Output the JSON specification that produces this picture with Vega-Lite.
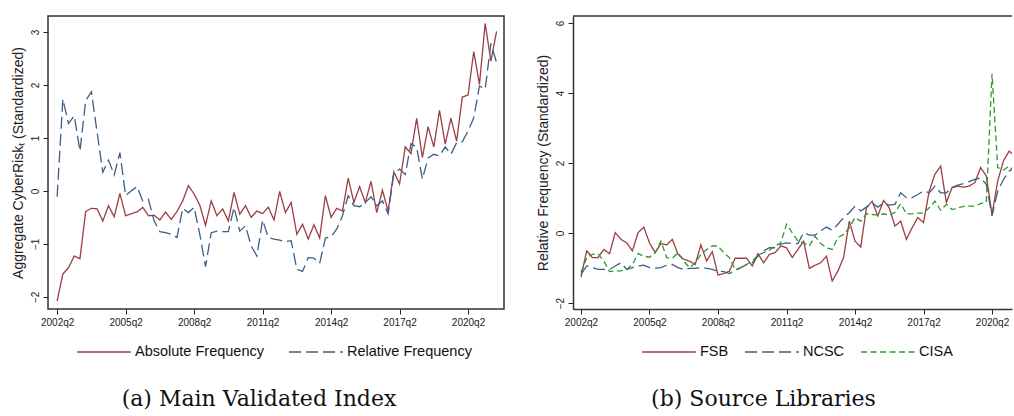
{
  "$schema": "https://vega.github.io/schema/vega-lite/v6.json",
  "background": "white",
  "padding": {"left": 10, "top": 15, "right": 0, "bottom": 0},
  "spacing": 31,
  "resolve": {"scale": {"color": "independent", "strokeDash": "independent"}, "legend": {"color": "independent", "strokeDash": "independent"}},
  "config": {
    "font": "Liberation Sans",
    "axis": {"labelFont": "Liberation Sans", "labelFontSize": 10, "labelColor": "#1a1a1a", "tickColor": "#222", "tickSize": 5, "tickWidth": 1, "titleFont": "Liberation Sans", "titleFontSize": 14, "titleFontWeight": "normal", "titleColor": "#222", "grid": false, "labelPadding": 3},
    "legend": {"orient": "none", "direction": "horizontal", "symbolType": "stroke", "symbolSize": 2900, "symbolStrokeWidth": 1.5, "labelFont": "Liberation Sans", "labelFontSize": 14.5, "labelColor": "#111", "gridAlign": "none", "labelOffset": 3},
    "title": {"font": "DejaVu Serif", "fontSize": 22, "fontWeight": "normal", "color": "#111", "orient": "bottom", "anchor": "middle", "offset": 30}
  },
  "datasets": {
    "main": [
      {"t":0,"Absolute Frequency":-2.08,"Relative Frequency":-0.11},
      {"t":1,"Absolute Frequency":-1.57,"Relative Frequency":1.73},
      {"t":2,"Absolute Frequency":-1.45,"Relative Frequency":1.27},
      {"t":3,"Absolute Frequency":-1.23,"Relative Frequency":1.42},
      {"t":4,"Absolute Frequency":-1.28,"Relative Frequency":0.75},
      {"t":5,"Absolute Frequency":-0.39,"Relative Frequency":1.70},
      {"t":6,"Absolute Frequency":-0.33,"Relative Frequency":1.87},
      {"t":7,"Absolute Frequency":-0.34,"Relative Frequency":1.11},
      {"t":8,"Absolute Frequency":-0.57,"Relative Frequency":0.35},
      {"t":9,"Absolute Frequency":-0.28,"Relative Frequency":0.58},
      {"t":10,"Absolute Frequency":-0.49,"Relative Frequency":0.30},
      {"t":11,"Absolute Frequency":-0.05,"Relative Frequency":0.72},
      {"t":12,"Absolute Frequency":-0.47,"Relative Frequency":-0.09},
      {"t":13,"Absolute Frequency":-0.43,"Relative Frequency":0.00},
      {"t":14,"Absolute Frequency":-0.40,"Relative Frequency":0.08},
      {"t":15,"Absolute Frequency":-0.31,"Relative Frequency":-0.19},
      {"t":16,"Absolute Frequency":-0.47,"Relative Frequency":-0.16},
      {"t":17,"Absolute Frequency":-0.46,"Relative Frequency":-0.57},
      {"t":18,"Absolute Frequency":-0.55,"Relative Frequency":-0.77},
      {"t":19,"Absolute Frequency":-0.40,"Relative Frequency":-0.79},
      {"t":20,"Absolute Frequency":-0.54,"Relative Frequency":-0.82},
      {"t":21,"Absolute Frequency":-0.39,"Relative Frequency":-0.88},
      {"t":22,"Absolute Frequency":-0.19,"Relative Frequency":-0.33},
      {"t":23,"Absolute Frequency":0.10,"Relative Frequency":-0.41},
      {"t":24,"Absolute Frequency":-0.06,"Relative Frequency":-0.31},
      {"t":25,"Absolute Frequency":-0.27,"Relative Frequency":-0.82},
      {"t":26,"Absolute Frequency":-0.65,"Relative Frequency":-1.43},
      {"t":27,"Absolute Frequency":-0.19,"Relative Frequency":-0.79},
      {"t":28,"Absolute Frequency":-0.47,"Relative Frequency":-0.76},
      {"t":29,"Absolute Frequency":-0.34,"Relative Frequency":-0.77},
      {"t":30,"Absolute Frequency":-0.57,"Relative Frequency":-0.77},
      {"t":31,"Absolute Frequency":-0.03,"Relative Frequency":-0.31},
      {"t":32,"Absolute Frequency":-0.44,"Relative Frequency":-0.76},
      {"t":33,"Absolute Frequency":-0.28,"Relative Frequency":-0.66},
      {"t":34,"Absolute Frequency":-0.50,"Relative Frequency":-1.04},
      {"t":35,"Absolute Frequency":-0.38,"Relative Frequency":-1.23},
      {"t":36,"Absolute Frequency":-0.43,"Relative Frequency":-0.55},
      {"t":37,"Absolute Frequency":-0.31,"Relative Frequency":-0.88},
      {"t":38,"Absolute Frequency":-0.55,"Relative Frequency":-0.91},
      {"t":39,"Absolute Frequency":-0.01,"Relative Frequency":-0.93},
      {"t":40,"Absolute Frequency":-0.41,"Relative Frequency":-0.96},
      {"t":41,"Absolute Frequency":-0.22,"Relative Frequency":-0.94},
      {"t":42,"Absolute Frequency":-0.82,"Relative Frequency":-1.48},
      {"t":43,"Absolute Frequency":-0.63,"Relative Frequency":-1.52},
      {"t":44,"Absolute Frequency":-0.91,"Relative Frequency":-1.26},
      {"t":45,"Absolute Frequency":-0.64,"Relative Frequency":-1.27},
      {"t":46,"Absolute Frequency":-0.89,"Relative Frequency":-1.37},
      {"t":47,"Absolute Frequency":-0.09,"Relative Frequency":-0.89},
      {"t":48,"Absolute Frequency":-0.50,"Relative Frequency":-0.87},
      {"t":49,"Absolute Frequency":-0.33,"Relative Frequency":-0.72},
      {"t":50,"Absolute Frequency":-0.38,"Relative Frequency":-0.47},
      {"t":51,"Absolute Frequency":0.24,"Relative Frequency":-0.09},
      {"t":52,"Absolute Frequency":-0.22,"Relative Frequency":-0.28},
      {"t":53,"Absolute Frequency":0.08,"Relative Frequency":-0.30},
      {"t":54,"Absolute Frequency":-0.22,"Relative Frequency":-0.22},
      {"t":55,"Absolute Frequency":0.18,"Relative Frequency":-0.11},
      {"t":56,"Absolute Frequency":-0.41,"Relative Frequency":-0.28},
      {"t":57,"Absolute Frequency":0.01,"Relative Frequency":-0.19},
      {"t":58,"Absolute Frequency":-0.38,"Relative Frequency":-0.43},
      {"t":59,"Absolute Frequency":0.36,"Relative Frequency":0.33},
      {"t":60,"Absolute Frequency":0.13,"Relative Frequency":0.41},
      {"t":61,"Absolute Frequency":0.83,"Relative Frequency":0.31},
      {"t":62,"Absolute Frequency":0.70,"Relative Frequency":0.89},
      {"t":63,"Absolute Frequency":1.37,"Relative Frequency":0.82},
      {"t":64,"Absolute Frequency":0.63,"Relative Frequency":0.22},
      {"t":65,"Absolute Frequency":1.21,"Relative Frequency":0.62},
      {"t":66,"Absolute Frequency":0.83,"Relative Frequency":0.69},
      {"t":67,"Absolute Frequency":1.52,"Relative Frequency":0.66},
      {"t":68,"Absolute Frequency":0.88,"Relative Frequency":0.83},
      {"t":69,"Absolute Frequency":1.37,"Relative Frequency":0.69},
      {"t":70,"Absolute Frequency":0.94,"Relative Frequency":0.91},
      {"t":71,"Absolute Frequency":1.77,"Relative Frequency":0.93},
      {"t":72,"Absolute Frequency":1.81,"Relative Frequency":1.13},
      {"t":73,"Absolute Frequency":2.63,"Relative Frequency":1.38},
      {"t":74,"Absolute Frequency":2.01,"Relative Frequency":1.98},
      {"t":75,"Absolute Frequency":3.16,"Relative Frequency":1.92},
      {"t":76,"Absolute Frequency":2.45,"Relative Frequency":2.78},
      {"t":77,"Absolute Frequency":3.01,"Relative Frequency":2.42}
    ],
    "sources": [
      {"t":0,"FSB":-1.26,"NCSC":-1.18,"CISA":-1.13},
      {"t":1,"FSB":-0.51,"NCSC":-0.94,"CISA":-0.70},
      {"t":2,"FSB":-0.70,"NCSC":-0.99,"CISA":-0.61},
      {"t":3,"FSB":-0.70,"NCSC":-1.04,"CISA":-0.59},
      {"t":4,"FSB":-0.47,"NCSC":-1.04,"CISA":-0.80},
      {"t":5,"FSB":-0.59,"NCSC":-1.04,"CISA":-1.10},
      {"t":6,"FSB":0.01,"NCSC":-0.94,"CISA":-1.08},
      {"t":7,"FSB":-0.18,"NCSC":-0.85,"CISA":-1.08},
      {"t":8,"FSB":-0.28,"NCSC":-1.04,"CISA":-1.04},
      {"t":9,"FSB":-0.51,"NCSC":-0.99,"CISA":-0.90},
      {"t":10,"FSB":0.01,"NCSC":-0.94,"CISA":-0.59},
      {"t":11,"FSB":0.17,"NCSC":-0.92,"CISA":-0.66},
      {"t":12,"FSB":-0.28,"NCSC":-0.99,"CISA":-0.69},
      {"t":13,"FSB":-0.56,"NCSC":-1.00,"CISA":-0.56},
      {"t":14,"FSB":-0.30,"NCSC":-0.99,"CISA":-0.23},
      {"t":15,"FSB":-0.34,"NCSC":-0.92,"CISA":-0.70},
      {"t":16,"FSB":-0.18,"NCSC":-0.90,"CISA":-0.72},
      {"t":17,"FSB":-0.61,"NCSC":-0.99,"CISA":-0.56},
      {"t":18,"FSB":-0.75,"NCSC":-1.04,"CISA":-0.80},
      {"t":19,"FSB":-0.80,"NCSC":-1.01,"CISA":-0.99},
      {"t":20,"FSB":-0.90,"NCSC":-1.01,"CISA":-0.85},
      {"t":21,"FSB":-0.34,"NCSC":-0.99,"CISA":-0.61},
      {"t":22,"FSB":-0.80,"NCSC":-1.01,"CISA":-0.47},
      {"t":23,"FSB":-0.53,"NCSC":-1.04,"CISA":-0.37},
      {"t":24,"FSB":-1.20,"NCSC":-1.09,"CISA":-0.37},
      {"t":25,"FSB":-1.16,"NCSC":-1.10,"CISA":-0.56},
      {"t":26,"FSB":-1.09,"NCSC":-1.16,"CISA":-0.70},
      {"t":27,"FSB":-0.72,"NCSC":-1.07,"CISA":-1.04},
      {"t":28,"FSB":-0.72,"NCSC":-0.99,"CISA":-0.99},
      {"t":29,"FSB":-0.72,"NCSC":-0.90,"CISA":-0.90},
      {"t":30,"FSB":-0.94,"NCSC":-0.85,"CISA":-0.80},
      {"t":31,"FSB":-0.59,"NCSC":-0.66,"CISA":-0.63},
      {"t":32,"FSB":-0.85,"NCSC":-0.51,"CISA":-0.56},
      {"t":33,"FSB":-0.61,"NCSC":-0.42,"CISA":-0.49},
      {"t":34,"FSB":-0.56,"NCSC":-0.42,"CISA":-0.37},
      {"t":35,"FSB":-0.37,"NCSC":-0.32,"CISA":-0.28},
      {"t":36,"FSB":-0.42,"NCSC":-0.28,"CISA":0.25},
      {"t":37,"FSB":-0.70,"NCSC":-0.30,"CISA":0.01},
      {"t":38,"FSB":-0.47,"NCSC":-0.30,"CISA":-0.23},
      {"t":39,"FSB":-0.23,"NCSC":0.01,"CISA":-0.28},
      {"t":40,"FSB":-1.01,"NCSC":-0.06,"CISA":-0.37},
      {"t":41,"FSB":-0.92,"NCSC":-0.06,"CISA":-0.09},
      {"t":42,"FSB":-0.85,"NCSC":0.06,"CISA":-0.30},
      {"t":43,"FSB":-0.66,"NCSC":0.17,"CISA":-0.42},
      {"t":44,"FSB":-1.37,"NCSC":0.08,"CISA":-0.47},
      {"t":45,"FSB":-1.09,"NCSC":0.25,"CISA":-0.13},
      {"t":46,"FSB":-0.70,"NCSC":0.44,"CISA":-0.04},
      {"t":47,"FSB":0.34,"NCSC":0.58,"CISA":0.15},
      {"t":48,"FSB":-0.23,"NCSC":0.77,"CISA":0.44},
      {"t":49,"FSB":-0.40,"NCSC":0.63,"CISA":0.34},
      {"t":50,"FSB":0.72,"NCSC":0.74,"CISA":0.55},
      {"t":51,"FSB":0.91,"NCSC":0.86,"CISA":0.53},
      {"t":52,"FSB":0.49,"NCSC":0.74,"CISA":0.51},
      {"t":53,"FSB":0.93,"NCSC":0.86,"CISA":0.55},
      {"t":54,"FSB":0.72,"NCSC":0.80,"CISA":0.51},
      {"t":55,"FSB":0.20,"NCSC":0.82,"CISA":0.59},
      {"t":56,"FSB":0.34,"NCSC":1.15,"CISA":0.84},
      {"t":57,"FSB":-0.18,"NCSC":1.01,"CISA":0.55},
      {"t":58,"FSB":0.15,"NCSC":1.01,"CISA":0.55},
      {"t":59,"FSB":0.44,"NCSC":1.10,"CISA":0.57},
      {"t":60,"FSB":0.30,"NCSC":1.20,"CISA":0.57},
      {"t":61,"FSB":1.20,"NCSC":1.15,"CISA":0.72},
      {"t":62,"FSB":1.68,"NCSC":1.34,"CISA":0.91},
      {"t":63,"FSB":1.91,"NCSC":1.15,"CISA":0.65},
      {"t":64,"FSB":0.87,"NCSC":1.15,"CISA":0.82},
      {"t":65,"FSB":1.30,"NCSC":1.30,"CISA":0.67},
      {"t":66,"FSB":1.34,"NCSC":1.37,"CISA":0.72},
      {"t":67,"FSB":1.31,"NCSC":1.41,"CISA":0.76},
      {"t":68,"FSB":1.34,"NCSC":1.47,"CISA":0.77},
      {"t":69,"FSB":1.44,"NCSC":1.53,"CISA":0.77},
      {"t":70,"FSB":1.87,"NCSC":1.58,"CISA":0.84},
      {"t":71,"FSB":1.63,"NCSC":1.39,"CISA":0.88},
      {"t":72,"FSB":0.53,"NCSC":0.49,"CISA":4.55},
      {"t":73,"FSB":1.49,"NCSC":1.20,"CISA":1.87},
      {"t":74,"FSB":2.06,"NCSC":1.53,"CISA":1.80},
      {"t":75,"FSB":2.34,"NCSC":1.77,"CISA":1.91},
      {"t":76,"FSB":2.20,"NCSC":1.87,"CISA":1.75},
      {"t":77,"FSB":2.00,"NCSC":1.90,"CISA":1.70}
    ]
  },
  "hconcat": [
    {
      "width": 456,
      "height": 293,
      "data": {"name": "main"},
      "title": {"text": "(a) Main Validated Index", "dx": -17},
      "view": {"stroke": "#333", "strokeWidth": 1.5},
      "transform": [{"fold": ["Absolute Frequency", "Relative Frequency"], "as": ["series", "value"]}],
      "mark": {"type": "line", "strokeWidth": 1.3, "clip": true},
      "encoding": {
        "x": {"field": "t", "type": "quantitative",
          "scale": {"domain": [-1.6, 78.3], "nice": false, "zero": false},
          "axis": {"values": [0, 12, 24, 36, 48, 60, 72], "labelExpr": "floor(2002 + (datum.value + 1) / 4) + 'q' + ((datum.value + 1) % 4 + 1)", "title": null, "domain": false}},
        "y": {"field": "value", "type": "quantitative",
          "scale": {"domain": [-2.23, 3.3], "nice": false, "zero": false},
          "axis": {"values": [-2, -1, 0, 1, 2, 3], "title": "Aggregate CyberRiskₜ (Standardized)", "labelAngle": -90, "domain": false, "titlePadding": 5}},
        "color": {"field": "series", "type": "nominal",
          "scale": {"domain": ["Absolute Frequency", "Relative Frequency"], "range": ["#9c3d44", "#3b5f87"]},
          "legend": {"title": null, "legendX": 28, "legendY": 308, "columnPadding": 22}},
        "strokeDash": {"field": "series", "type": "nominal",
          "scale": {"domain": ["Absolute Frequency", "Relative Frequency"], "range": [[1, 0], [12, 5]]},
          "legend": {"title": null, "legendX": 28, "legendY": 308, "columnPadding": 22}}
      }
    },
    {
      "width": 439,
      "height": 293,
      "title": {"text": "(b) Source Libraries", "dx": -29},
      "view": {"stroke": null},
      "layer": [
        {
          "data": {"name": "sources"},
          "transform": [{"fold": ["FSB", "NCSC", "CISA"], "as": ["series", "value"]}],
          "mark": {"type": "line", "strokeWidth": 1.3, "clip": true},
          "encoding": {
            "x": {"field": "t", "type": "quantitative",
              "scale": {"domain": [-1.4, 75.5], "nice": false, "zero": false},
              "axis": {"values": [0, 12, 24, 36, 48, 60, 72], "labelExpr": "floor(2002 + (datum.value + 1) / 4) + 'q' + ((datum.value + 1) % 4 + 1)", "title": null, "domain": true, "domainColor": "#333", "domainWidth": 1.5}},
            "y": {"field": "value", "type": "quantitative",
              "scale": {"domain": [-2.17, 6.2], "nice": false, "zero": false},
              "axis": {"values": [-2, 0, 2, 4, 6], "title": "Relative Frequency (Standardized)", "labelAngle": -90, "domain": true, "domainColor": "#333", "domainWidth": 1.5, "titlePadding": 5}},
            "color": {"field": "series", "type": "nominal",
              "scale": {"domain": ["FSB", "NCSC", "CISA"], "range": ["#9c3d44", "#3b5f87", "#2f9a2f"]},
              "legend": {"title": null, "legendX": 68, "legendY": 308, "columnPadding": 13}},
            "strokeDash": {"field": "series", "type": "nominal",
              "scale": {"domain": ["FSB", "NCSC", "CISA"], "range": [[1, 0], [12, 5], [6, 3.5]]},
              "legend": {"title": null, "legendX": 68, "legendY": 308, "columnPadding": 13}}
          }
        },
        {
          "data": {"values": [{}]},
          "mark": {"type": "rule", "color": "#333", "strokeWidth": 1.5},
          "encoding": {"y": {"datum": 6.2}}
        }
      ]
    }
  ]
}
